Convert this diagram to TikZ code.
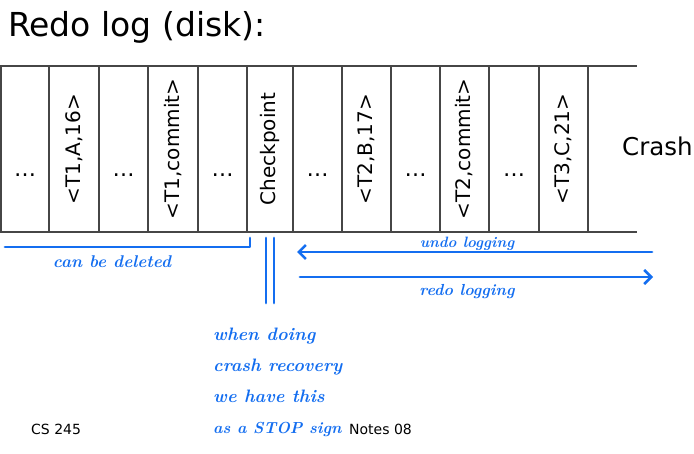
\documentclass[tikz,border=0pt]{standalone}
\usepackage{fontspec}
\newfontfamily\dv{DejaVu Sans}
\usetikzlibrary{arrows.meta}
\definecolor{ink}{RGB}{20,110,240}
\definecolor{rulec}{RGB}{70,70,70}
\begin{document}
\begin{tikzpicture}[x=1pt,y=-1pt,
  cell/.style={draw=rulec,line width=1.3pt,minimum height=166pt,inner sep=0pt,outer sep=0pt},
  rot/.style={rotate=90,font=\dv\fontsize{20}{24}\selectfont,inner sep=0pt},
  dots/.style={font=\dv\fontsize{22}{24}\selectfont,inner sep=0pt,anchor=base},
  slide/.style={font=\dv\fontsize{14}{17}\selectfont,inner sep=0pt,anchor=base west},
  hand/.style={text=ink,font=\bfseries\itshape\fontsize{18}{22}\selectfont,inner sep=0pt},
  handsmall/.style={hand,font=\bfseries\itshape\fontsize{15}{18}\selectfont},
  pen/.style={draw=ink,line width=2.7pt,line cap=round,line join=round},
  barb/.style={-{Straight Barb[length=7pt,width=14pt,line width=2.5pt]}},
]
\useasboundingbox (0,0) rectangle (694,454);

% title
\node[font=\dv\fontsize{33}{40}\selectfont,inner sep=0pt,anchor=base west] (title) at (8,37) {Redo log (disk):};

% log cells
\node[cell,minimum width=48pt] (c1) at (25,149) {};
\node[cell,minimum width=50pt] (c2) at (74,149) {};
\node[cell,minimum width=49pt] (c3) at (123.5,149) {};
\node[cell,minimum width=50pt] (c4) at (173,149) {};
\node[cell,minimum width=49pt] (c5) at (222.5,149) {};
\node[cell,minimum width=46pt] (c6) at (270,149) {};
\node[cell,minimum width=49pt] (c7) at (317.5,149) {};
\node[cell,minimum width=49pt] (c8) at (366.5,149) {};
\node[cell,minimum width=49pt] (c9) at (415.5,149) {};
\node[cell,minimum width=49pt] (c10) at (464.5,149) {};
\node[cell,minimum width=50pt] (c11) at (514,149) {};
\node[cell,minimum width=49pt] (c12) at (563.5,149) {};
\coordinate (te) at (637,66);
\coordinate (be) at (637,232);
\draw[draw=rulec,line width=1.3pt] (c12.north east) -- (te);
\draw[draw=rulec,line width=1.3pt] (c12.south east) -- (be);

% cell contents
\node[dots] (d1) at (25,177) {…};
\node[rot] (l2) at (c2) {<T1,A,16>};
\node[dots] (d3) at (123.5,177) {…};
\node[rot] (l4) at (c4) {<T1,commit>};
\node[dots] (d5) at (222.5,177) {…};
\node[rot] (l6) at (c6) {Checkpoint};
\node[dots] (d7) at (317.5,177) {…};
\node[rot] (l8) at (c8) {<T2,B,17>};
\node[dots] (d9) at (415.5,177) {…};
\node[rot] (l10) at (c10) {<T2,commit>};
\node[dots] (d11) at (514,177) {…};
\node[rot] (l12) at (c12) {<T3,C,21>};

\node[font=\dv\fontsize{24.5}{30}\selectfont,inner sep=0pt,anchor=base west] (crash) at (622,156) {Crash};

% footer
\node[slide] (cs) at (31,435) {CS 245};
\node[slide] (notes) at (349,435) {Notes 08};

% handwritten annotations
\coordinate (dl0) at (5,247);
\coordinate (dl1) at (250,247);
\coordinate (dl2) at (250,238);
\draw[pen] (dl0) -- (dl1) -- (dl2);
\node[hand,font=\bfseries\itshape\fontsize{17}{20}\selectfont] (del) at (112,262) {can be deleted};

\coordinate (s1a) at (266,238); \coordinate (s1b) at (266,303);
\coordinate (s2a) at (274,238); \coordinate (s2b) at (274,303);
\draw[pen] (s1a) -- (s1b);
\draw[pen] (s2a) -- (s2b);

\coordinate (u0) at (652,252); \coordinate (u1) at (297,252);
\draw[pen,barb] (u0) -- (u1);
\node[handsmall] (undo) at (467,244) {undo logging};

\coordinate (r0) at (300,277); \coordinate (r1) at (653,277);
\draw[pen,barb] (r0) -- (r1);
\node[handsmall,font=\bfseries\itshape\fontsize{16}{18}\selectfont] (redo) at (467,292) {redo logging};

\node[hand,anchor=base west] (n1) at (213,341) {when doing};
\node[hand,anchor=base west] (n2) at (213,372) {crash recovery};
\node[hand,anchor=base west] (n3) at (213,403) {we have this};
\node[hand,anchor=base west,font=\bfseries\itshape\fontsize{16}{20}\selectfont] (n4) at (213,434) {as a STOP sign};
\end{tikzpicture}
\end{document}
